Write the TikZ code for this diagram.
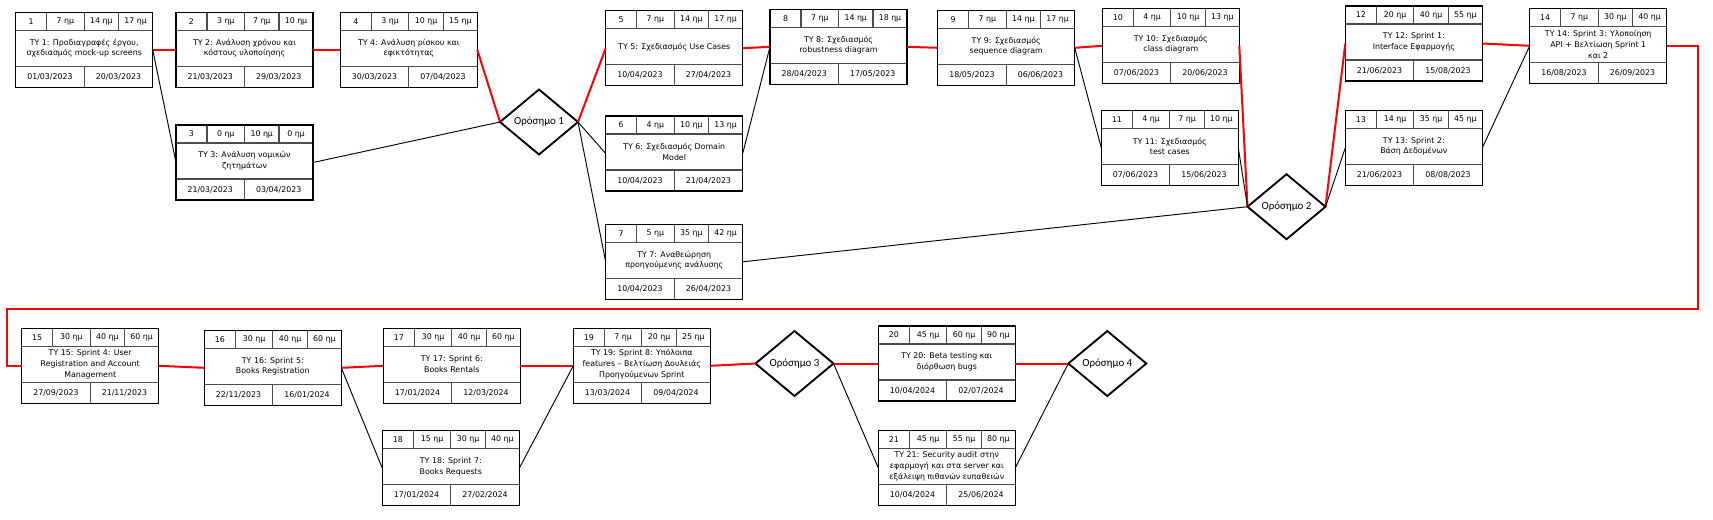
\documentclass[tikz,border=0pt]{standalone}
\usepackage{fontspec}
\setmainfont{DejaVu Sans}
\newfontfamily\msfont{Carlito}
\usetikzlibrary{shapes.geometric,calc}

\tikzset{
  x=0.75pt, y=-0.75pt,
  boxframe/.style={draw=black, line width=0.9pt, minimum width=102.75pt, minimum height=56.25pt, inner sep=0pt, outer sep=0pt},
  divider/.style={draw=black!70, line width=0.9pt},
  celltext/.style={inner sep=0pt, font=\fontsize{5.9}{7}\selectfont},
  midtext/.style={inner sep=0pt, align=center, font=\fontsize{5.9}{8}\selectfont},
  milestone/.style={diamond, draw=black, line width=1.4pt, minimum width=58.5pt, minimum height=48.75pt, shape aspect=1.2, inner sep=0pt, outer sep=0pt, font=\msfont\fontsize{8.2}{10}\selectfont},
  crit/.style={draw=red, line width=1.5pt},
  norm/.style={draw=black, line width=0.7pt},
}

% #1 name, #2 (x,y) top-left, #3 id, #4 #5 #6 durations, #7 title, #8 start, #9 end
\newcommand{\taskbox}[9]{%
  \begin{scope}[shift={#2}]
    \node[boxframe, anchor=north west] (#1) at (0,0) {};
    \draw[divider] (0,18) -- (137,18);
    \draw[divider] (0,54) -- (137,54);
    \draw[divider] (31,0) -- (31,18);
    \draw[divider] (68.5,0) -- (68.5,18);
    \draw[divider] (103,0) -- (103,18);
    \draw[divider] (68.5,54) -- (68.5,75);
    \draw[draw=black, line width=0.9pt] (0,0) rectangle (137,75);
    \node[celltext] (#1-id) at (15.5,9) {#3};
    \node[celltext] (#1-a) at (49.75,9) {#4};
    \node[celltext] (#1-b) at (85.75,9) {#5};
    \node[celltext] (#1-c) at (120,9) {#6};
    \node[midtext] (#1-t) at (68.5,36) {#7};
    \node[celltext] (#1-s) at (34.25,64.5) {#8};
    \node[celltext] (#1-e) at (102.75,64.5) {#9};
  \end{scope}}

\begin{document}
\begin{tikzpicture}
\fill[white] (0,0) rectangle (1713,519);
\useasboundingbox (0,0) rectangle (1713,519);

\taskbox{b1}{(15.7,12.3)}{1}{7 ημ}{14 ημ}{17 ημ}{ΤΥ 1: Προδιαγραφές έργου,\\σχεδιασμός mock-up screens}{01/03/2023}{20/03/2023}
\taskbox{b2}{(176,12.3)}{2}{3 ημ}{7 ημ}{10 ημ}{ΤΥ 2: Ανάλυση χρόνου και\\κόστους υλοποίησης}{21/03/2023}{29/03/2023}
\taskbox{b3}{(176,125)}{3}{0 ημ}{10 ημ}{0 ημ}{ΤΥ 3: Ανάλυση νομικών\\ζητημάτων}{21/03/2023}{03/04/2023}
\taskbox{b4}{(340.3,12.3)}{4}{3 ημ}{10 ημ}{15 ημ}{ΤΥ 4: Ανάλυση ρίσκου και\\εφικτότητας}{30/03/2023}{07/04/2023}
\taskbox{b5}{(605.7,10.7)}{5}{7 ημ}{14 ημ}{17 ημ}{ΤΥ 5: Σχεδιασμός Use Cases}{10/04/2023}{27/04/2023}
\taskbox{b6}{(605.7,116)}{6}{4 ημ}{10 ημ}{13 ημ}{ΤΥ 6: Σχεδιασμός Domain\\Model}{10/04/2023}{21/04/2023}
\taskbox{b7}{(605.7,224.3)}{7}{5 ημ}{35 ημ}{42 ημ}{ΤΥ 7: Αναθεώρηση\\προηγούμενης ανάλυσης}{10/04/2023}{26/04/2023}
\taskbox{b8}{(770,9.3)}{8}{7 ημ}{14 ημ}{18 ημ}{ΤΥ 8: Σχεδιασμός\\robustness diagram}{28/04/2023}{17/05/2023}
\taskbox{b9}{(937.7,10.3)}{9}{7 ημ}{14 ημ}{17 ημ}{ΤΥ 9: Σχεδιασμός\\sequence diagram}{18/05/2023}{06/06/2023}
\taskbox{b10}{(1102.3,8.3)}{10}{4 ημ}{10 ημ}{13 ημ}{ΤΥ 10: Σχεδιασμός\\class diagram}{07/06/2023}{20/06/2023}
\taskbox{b11}{(1101.3,110.3)}{11}{4 ημ}{7 ημ}{10 ημ}{ΤΥ 11: Σχεδιασμός\\test cases}{07/06/2023}{15/06/2023}
\taskbox{b12}{(1345.3,6)}{12}{20 ημ}{40 ημ}{55 ημ}{ΤΥ 12: Sprint 1:\\Interface Εφαρμογής}{21/06/2023}{15/08/2023}
\taskbox{b13}{(1345.3,110.3)}{13}{14 ημ}{35 ημ}{45 ημ}{ΤΥ 13: Sprint 2:\\Βάση Δεδομένων}{21/06/2023}{08/08/2023}
\taskbox{b14}{(1529.7,8.3)}{14}{7 ημ}{30 ημ}{40 ημ}{ΤΥ 14: Sprint 3: Υλοποίηση\\API + Βελτίωση Sprint 1\\και 2}{16/08/2023}{26/09/2023}
\taskbox{b15}{(21.7,328.3)}{15}{30 ημ}{40 ημ}{60 ημ}{ΤΥ 15: Sprint 4: User\\Registration and Account\\Management}{27/09/2023}{21/11/2023}
\taskbox{b16}{(204.3,330.3)}{16}{30 ημ}{40 ημ}{60 ημ}{ΤΥ 16: Sprint 5:\\Books Registration}{22/11/2023}{16/01/2024}
\taskbox{b17}{(383.3,328.3)}{17}{30 ημ}{40 ημ}{60 ημ}{ΤΥ 17: Sprint 6:\\Books Rentals}{17/01/2024}{12/03/2024}
\taskbox{b18}{(382.3,430.7)}{18}{15 ημ}{30 ημ}{40 ημ}{ΤΥ 18: Sprint 7:\\Books Requests}{17/01/2024}{27/02/2024}
\taskbox{b19}{(573.3,328.3)}{19}{7 ημ}{20 ημ}{25 ημ}{ΤΥ 19: Sprint 8: Υπόλοιπα\\features – Βελτίωση Δουλειάς\\Προηγούμενων Sprint}{13/03/2024}{09/04/2024}
\taskbox{b20}{(878.3,326)}{20}{45 ημ}{60 ημ}{90 ημ}{ΤΥ 20: Beta testing και\\διόρθωση bugs}{10/04/2024}{02/07/2024}
\taskbox{b21}{(878.3,430.3)}{21}{45 ημ}{55 ημ}{80 ημ}{ΤΥ 21: Security audit στην\\εφαρμογή και στα server και\\εξάλειψη πιθανών ευπαθειών}{10/04/2024}{25/06/2024}

\node[milestone] (m1) at (539,122) {Ορόσημο 1};
\node[milestone] (m2) at (1286.5,206.7) {Ορόσημο 2};
\node[milestone] (m3) at (794.5,363.5) {Ορόσημο 3};
\node[milestone] (m4) at (1107.3,363.5) {Ορόσημο 4};

\coordinate (r1) at (1698.3,308.5);
\coordinate (r2) at (6.7,308.5);

% critical path
\draw[crit] (b1.east) -- (b2.west);
\draw[crit] (b2.east) -- (b4.west);
\draw[crit] (b4.east) -- (m1.west);
\draw[crit] (m1.east) -- (b5.west);
\draw[crit] (b5.east) -- (b8.west);
\draw[crit] (b8.east) -- (b9.west);
\draw[crit] (b9.east) -- (b10.west);
\draw[crit] (b10.east) -- (m2.west);
\draw[crit] (m2.east) -- (b12.west);
\draw[crit] (b12.east) -- (b14.west);
\draw[crit] (b14.east) -| (r1) -- (r2) |- (b15.west);
\draw[crit] (b15.east) -- (b16.west);
\draw[crit] (b16.east) -- (b17.west);
\draw[crit] (b17.east) -- (b19.west);
\draw[crit] (b19.east) -- (m3.west);
\draw[crit] (m3.east) -- (b20.west);
\draw[crit] (b20.east) -- (m4.west);

% other dependencies
\draw[norm] (b1.east) -- (b3.west);
\draw[norm] (b3.east) -- (m1.west);
\draw[norm] (m1.east) -- (b6.west);
\draw[norm] (m1.east) -- (b7.west);
\draw[norm] (b6.east) -- (b8.west);
\draw[norm] (b7.east) -- (m2.west);
\draw[norm] (b9.east) -- (b11.west);
\draw[norm] (b11.east) -- (m2.west);
\draw[norm] (m2.east) -- (b13.west);
\draw[norm] (b13.east) -- (b14.west);
\draw[norm] (b16.east) -- (b18.west);
\draw[norm] (b18.east) -- (b19.west);
\draw[norm] (m3.east) -- (b21.west);
\draw[norm] (b21.east) -- (m4.west);
\end{tikzpicture}
\end{document}
